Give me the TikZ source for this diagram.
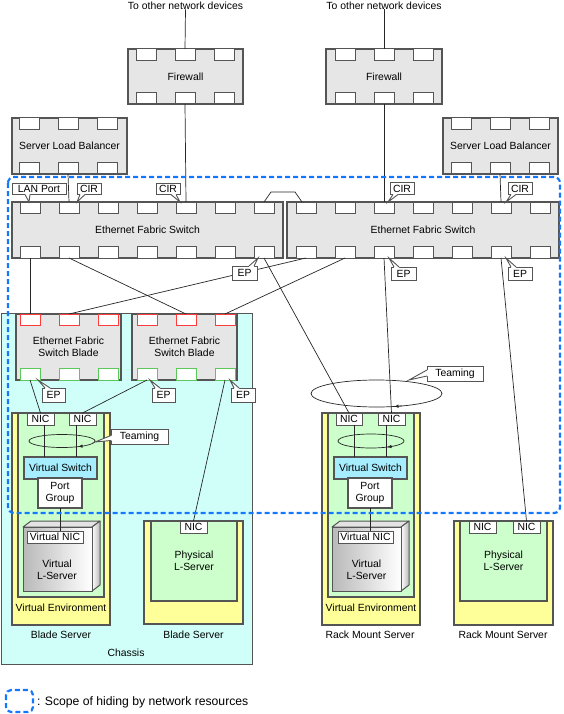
\documentclass[tikz,border=0pt]{standalone}
\usepackage{fontspec}
\setmainfont{Liberation Sans}
\usetikzlibrary{calc,arrows.meta}
\definecolor{dg}{RGB}{85,85,85}
\definecolor{lg}{RGB}{230,230,230}
\definecolor{chcyan}{RGB}{208,255,250}
\definecolor{yel}{RGB}{255,255,153}
\definecolor{grn}{RGB}{204,255,204}
\definecolor{vsc}{RGB}{166,238,255}
\definecolor{scopeblue}{RGB}{20,120,255}
\definecolor{rp}{RGB}{255,60,60}
\definecolor{gp}{RGB}{90,200,90}
\newcommand\bx[7]{\pgfmathsetmacro\bw{#5-#3}\pgfmathsetmacro\bh{#6-#4}%
 \node[#2,anchor=north west,minimum width=\bw pt,minimum height=\bh pt] (#1) at (#3,#4) {#7};}
\newcommand\prt[4]{\node[#2,anchor=north west,minimum width=20pt,minimum height=11.5pt] (#1) at (#3,#4) {};}
\newcommand\tail[8]{\fill[white] (#1,#2) -- (#5,#6) -- (#3,#4) -- ($(#3,#4)+(#7,#8)$) -- ($(#1,#2)+(#7,#8)$) -- cycle;
 \draw[cline] (#1,#2) -- (#5,#6) -- (#3,#4);}
\newcommand\lsrv[4]{%
 \shade[left color=gray!55,right color=white] (#1,#2) rectangle (#3,#4);
 \filldraw[fill=gray!22,draw=dg,line width=1pt,line join=round] (#1,#2) -- (#1+8,#2-6) -- (#3+8,#2-6) -- (#3,#2) -- cycle;
 \shade[left color=white,right color=gray!55] (#3,#2) -- (#3+8,#2-6) -- (#3+8,#4-6) -- (#3,#4) -- cycle;
 \draw[dg,line width=1pt,line join=round] (#3,#2) -- (#3+8,#2-6) -- (#3+8,#4-6) -- (#3,#4);
 \draw[dg,line width=1pt] (#1,#2) rectangle (#3,#4);}
\tikzset{
 base/.style={inner sep=0pt,outer sep=0pt,align=center,font=\fontsize{10.4}{11.5}\selectfont},
 dev/.style={base,draw=dg,fill=lg,line width=1.2pt},
 port/.style={base,draw=dg,fill=white,line width=1pt},
 rport/.style={port,draw=rp},
 gport/.style={port,draw=gp},
 chas/.style={base,draw=dg,fill=chcyan,line width=1pt},
 yelbox/.style={base,draw=dg,fill=yel,line width=1.2pt},
 grnbox/.style={base,draw=dg,fill=grn,line width=1.2pt},
 nicbox/.style={base,draw=dg,fill=white,line width=1pt},
 vsbox/.style={base,draw=dg,fill=vsc,line width=1.2pt},
 pgbox/.style={base,draw=dg,fill=white,line width=1.2pt},
 callbox/.style={base,draw=dg,fill=white,line width=0.9pt},
 cline/.style={draw=dg,line width=0.9pt},
 conn/.style={draw=black!85,line width=0.7pt},
 lbl/.style={base},
 scopeline/.style={draw=scopeblue,line width=2.2pt,dash pattern=on 5pt off 3pt,rounded corners=6pt},
 arr/.style={conn,-{Latex[length=4.5pt,width=3.5pt]}},
}
\begin{document}
\begin{tikzpicture}[x=1pt,y=-1pt]
\useasboundingbox (0,0) rectangle (563,714);
% chassis
\bx{chassis}{chas}{1}{313}{252}{664}{}
% top labels
\node[lbl] (to1) at (185.5,5.5) {To other network devices};
\node[lbl] (to2) at (384,5.5) {To other network devices};
% firewalls
\bx{fw1}{dev}{128}{49}{243}{104}{Firewall}
\bx{fw2}{dev}{326}{49}{442}{104}{Firewall}
\foreach \n/\x in {1/136,2/175,3/214}{\prt{fw1t\n}{port}{\x}{49}\prt{fw1b\n}{port}{\x}{92.5}}
\foreach \n/\x in {1/335,2/374,3/413}{\prt{fw2t\n}{port}{\x}{49}\prt{fw2b\n}{port}{\x}{92.5}}
% load balancers
\bx{slb1}{dev}{12}{118}{127}{174}{Server Load Balancer}
\bx{slb2}{dev}{443}{118}{558}{174}{Server Load Balancer}
\foreach \n/\x in {1/19,2/58,3/97}{\prt{slb1t\n}{port}{\x}{118}\prt{slb1b\n}{port}{\x}{162.5}}
\foreach \n/\x in {1/451,2/490,3/529}{\prt{slb2t\n}{port}{\x}{118}\prt{slb2b\n}{port}{\x}{162.5}}
% fabric switches
\bx{sw1}{dev}{12}{202}{283}{258}{Ethernet Fabric Switch}
\bx{sw2}{dev}{287}{202}{559}{258}{Ethernet Fabric Switch}
\foreach \n in {1,...,7}{\pgfmathsetmacro\px{20+39*(\n-1)}\prt{sw1t\n}{port}{\px}{202}\prt{sw1b\n}{port}{\px}{246.5}}
\foreach \n in {1,...,7}{\pgfmathsetmacro\px{296+39*(\n-1)}\prt{sw2t\n}{port}{\px}{202}\prt{sw2b\n}{port}{\px}{246.5}}
% switch blades
\bx{bl1}{dev}{16}{314}{121}{380}{Ethernet Fabric\\Switch Blade}
\bx{bl2}{dev}{132}{314}{237}{380}{Ethernet Fabric\\Switch Blade}
\foreach \n/\x in {1/20,2/59,3/98}{\prt{bl1t\n}{rport}{\x}{314}\prt{bl1b\n}{gport}{\x}{368.5}}
\foreach \n/\x in {1/137,2/176,3/215}{\prt{bl2t\n}{rport}{\x}{314}\prt{bl2b\n}{gport}{\x}{368.5}}
% blade server with virtual environment
\bx{ve1y}{yelbox}{12}{413}{110}{625}{}
\bx{ve1g}{grnbox}{18}{413}{104}{597}{}
\bx{vn1}{nicbox}{27}{413}{54}{425}{NIC}
\bx{vn2}{nicbox}{69}{413}{96}{425}{NIC}
\bx{vs1}{vsbox}{24}{457}{97}{479}{Virtual Switch}
\bx{pg1}{pgbox}{38}{478}{82}{508}{Port\\Group}
\lsrv{23}{527}{92}{591}
\bx{vnic1}{nicbox}{27}{531}{83}{543}{Virtual NIC}
\node[lbl] (vls1) at (57,570) {Virtual\\L-Server};
\node[lbl] (vet1) at (61,608) {Virtual Environment};
\node[lbl] (bst1) at (61,635) {Blade Server};
% physical blade server
\bx{pby}{yelbox}{144}{521}{243}{624}{}
\bx{pbg}{grnbox}{151}{521}{237}{601}{Physical\\L-Server}
\bx{pbn}{nicbox}{180}{521}{207}{533}{NIC}
\node[lbl] (bst2) at (193.5,635) {Blade Server};
\node[lbl] (chast) at (126,653) {Chassis};
% rack mount server with virtual environment
\bx{ve2y}{yelbox}{322}{413}{420}{625}{}
\bx{ve2g}{grnbox}{328}{413}{414}{597}{}
\bx{rn1}{nicbox}{336}{413}{362}{425}{NIC}
\bx{rn2}{nicbox}{378}{413}{405}{425}{NIC}
\bx{vs2}{vsbox}{334}{457}{407}{479}{Virtual Switch}
\bx{pg2}{pgbox}{348}{478}{392}{508}{Port\\Group}
\lsrv{332}{527}{401}{591}
\bx{vnic2}{nicbox}{338}{531}{393}{543}{Virtual NIC}
\node[lbl] (vls2) at (366.5,570) {Virtual\\L-Server};
\node[lbl] (vet2) at (371,608) {Virtual Environment};
\node[lbl] (rms1) at (370,635) {Rack Mount Server};
% physical rack server
\bx{pry}{yelbox}{454}{521}{553}{625}{}
\bx{prg}{grnbox}{460}{521}{547}{601}{Physical\\L-Server}
\bx{prn1}{nicbox}{469}{521}{496}{533}{NIC}
\bx{prn2}{nicbox}{513}{521}{540}{533}{NIC}
\node[lbl] (rms2) at (503,635) {Rack Mount Server};
% connectors
\draw[conn] (to1.south) -- (fw1t2.north);
\draw[conn] (to2.south) -- (fw2t2.north);
\draw[conn] (fw1b2.south) -- (sw1t5.north);
\draw[conn] (fw2b2.south) -- (sw2t3.north);
\draw[conn] (slb1b2.south) -- (sw1t2.north);
\draw[conn] (slb2b2.south) -- (sw2t6.north);
\draw[conn] (sw1t7.north) -- ++(7,-10) -- ($(sw2t1.north)+(-11,-10)$) -- ($(sw2t1.north)+(-4,0)$);
\draw[conn] (sw1b1.south) -- (bl1t1.north);
\draw[conn] (sw1b2.south) -- (bl2t2.north);
\draw[conn] (sw2b1.south) -- (bl1t2.north);
\draw[conn] (sw2b2.south) -- (bl2t3.north);
\draw[conn] (sw1b7.south) -- (rn1.north);
\draw[conn] (sw2b3.south) -- (rn2.north);
\draw[conn] (sw2b6.south) -- (prn2.north);
\draw[conn] (bl1b1.south) -- (vn1.north);
\draw[conn] (bl2b1.south) -- (vn2.north);
\draw[conn] (bl2b3.south) -- (pbn.north);
\coordinate (a1) at ($(vn1.south)+(4,0)$);
\coordinate (a2) at ($(vn2.south)+(-6,0)$);
\coordinate (a3) at ($(rn1.south)+(5,0)$);
\coordinate (a4) at ($(rn2.south)+(-5.5,0)$);
\draw[conn] (a1) -- (a1 |- vs1.north);
\draw[conn] (a2) -- (a2 |- vs1.north);
\draw[conn] (a3) -- (a3 |- vs2.north);
\draw[conn] (a4) -- (a4 |- vs2.north);
\draw[conn] (pg1.south) -- (pg1.south |- vnic1.north);
\draw[conn] (pg2.south) -- (pg2.south |- vnic2.north);
% teaming ellipses
\draw[conn] (62,441) ellipse [x radius=33pt, y radius=6.5pt];
\draw[arr] (83,446.0) -- (78,446.7);
\draw[conn] (371,441) ellipse [x radius=33pt, y radius=7pt];
\draw[arr] (392,446.4) -- (387,447.1);
\draw[conn] (376.5,393.5) ellipse [x radius=65.5pt, y radius=13.5pt];
\draw[arr] (402,405.9) -- (394,406.5);
% callouts
\bx{lanp}{callbox}{12}{183}{66}{194.5}{LAN Port}
\tail{25}{194.5}{30}{194.5}{29}{202}{0}{-1}
\bx{cir1}{callbox}{77}{183}{101}{194.5}{CIR}
\tail{80}{194.5}{85}{194.5}{77}{202}{0}{-1}
\bx{cir2}{callbox}{156}{183}{180}{194.5}{CIR}
\tail{171}{194.5}{176}{194.5}{180}{202}{0}{-1}
\bx{cir3}{callbox}{390}{182.5}{414}{194.5}{CIR}
\tail{393}{194.5}{398}{194.5}{388}{202}{0}{-1}
\bx{cir4}{callbox}{508}{182.5}{532}{194.5}{CIR}
\tail{511}{194.5}{516}{194.5}{506}{202}{0}{-1}
\bx{ep1}{callbox}{232}{266}{257}{280}{EP}
\tail{249}{266}{254}{266}{258}{258}{0}{1}
\bx{ep2}{callbox}{391}{267}{416}{280}{EP}
\tail{394}{267}{399}{267}{389}{258}{0}{1}
\bx{ep3}{callbox}{508}{267}{532}{280}{EP}
\tail{511}{267}{516}{267}{506}{258}{0}{1}
\bx{ep4}{callbox}{42}{388}{65}{402}{EP}
\tail{45}{388}{50}{388}{38}{380}{0}{1}
\bx{ep5}{callbox}{152}{388}{175}{402}{EP}
\tail{155}{388}{160}{388}{150}{380}{0}{1}
\bx{ep6}{callbox}{231}{388}{255}{402}{EP}
\tail{234}{388}{239}{388}{230}{380}{0}{1}
\bx{team1}{callbox}{111}{429}{168}{444}{Teaming}
\tail{111}{435.5}{111}{440.5}{95}{442}{1}{0}
\bx{team2}{callbox}{427}{366}{483}{381}{Teaming}
\tail{427}{370}{427}{376}{409}{380}{1}{0}
% scope
\draw[scopeline] (8,177) rectangle (560,513);
% legend
\draw[scopeline,rounded corners=5pt] (6,690) rectangle (33,712);
\node[lbl,anchor=west,font=\fontsize{12.2}{14}\selectfont] (legt) at (37,702) {: Scope of hiding by network resources};
\end{tikzpicture}
\end{document}
